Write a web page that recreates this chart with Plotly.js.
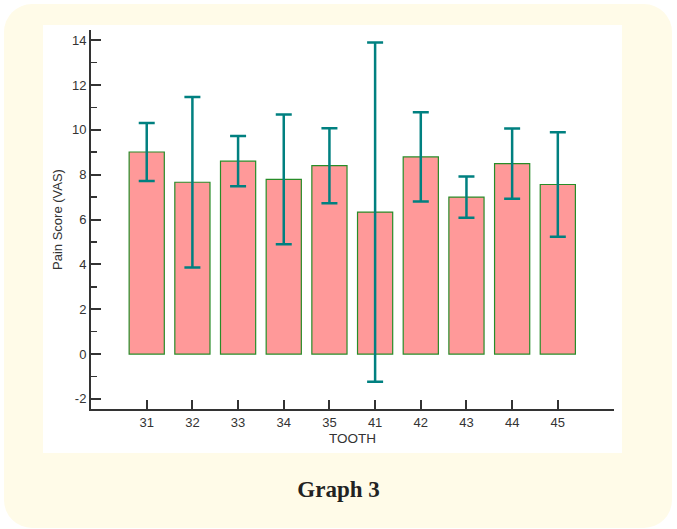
<!DOCTYPE html>
<html>
<head>
<meta charset="utf-8">
<script src="https://cdn.plot.ly/plotly-3.0.1.min.js"></script>
<style>
html,body{margin:0;padding:0;width:677px;height:529px;background:#ffffff;overflow:hidden;}
#card{position:absolute;left:4px;top:4px;width:668px;height:524px;background:#fffbe8;border-radius:28px;}
#plot{position:absolute;left:43px;top:25px;width:579px;height:428px;}
#cap{position:absolute;left:0;width:677px;top:477px;text-align:center;font-family:"Liberation Serif",serif;font-weight:bold;font-size:23px;color:#222;}
</style>
</head>
<body>
<div id="card"></div>
<div id="plot"></div>
<div id="cap">Graph 3</div>
<script>
var teeth = ['31','32','33','34','35','41','42','43','44','45'];
var meanScore = [9.01, 7.66, 8.6, 7.79, 8.4, 6.33, 8.79, 7.0, 8.49, 7.56];
var errScore = [1.29, 3.8, 1.12, 2.89, 1.67, 7.56, 1.99, 0.92, 1.57, 2.33];
var yTicks = [-2, 0, 2, 4, 6, 8, 10, 12, 14];

var trace = {
  type: 'bar',
  x: teeth,
  y: meanScore,
  width: 0.77,
  marker: {color: 'rgb(255,153,153)', line: {color: 'rgb(40,140,40)', width: 1.2}},
  error_y: {type: 'data', array: errScore, visible: true, color: 'rgb(0,128,128)', thickness: 2.5, width: 8},
  hoverinfo: 'none'
};

var layout = {
  width: 579, height: 428,
  margin: {l: 48, r: 8, t: 5, b: 44},
  paper_bgcolor: '#ffffff',
  plot_bgcolor: '#ffffff',
  showlegend: false,
  font: {family: 'Liberation Sans, Arial, sans-serif', size: 13, color: '#333'},
  xaxis: {
    type: 'category',
    range: [-1.22, 10.23],
    showline: true, linewidth: 2, linecolor: '#333',
    ticks: 'inside', ticklen: 9, tickwidth: 2, tickcolor: '#333',
    showgrid: false, zeroline: false,
    tickfont: {size: 13, color: '#333'},
    title: {text: 'TOOTH', font: {size: 13.5, color: '#333'}, standoff: 5}
  },
  yaxis: {
    range: [-2.45, 14.45],
    tickvals: yTicks,
    ticktext: yTicks.map(String),
    showline: true, linewidth: 2, linecolor: '#333',
    ticks: 'inside', ticklen: 10, tickwidth: 2, tickcolor: '#333',
    minor: {dtick: 1, tick0: 0, ticks: 'inside', ticklen: 6, tickwidth: 1.5, tickcolor: '#333', showgrid: false},
    showgrid: false, zeroline: false,
    tickfont: {size: 13, color: '#333'},
    title: {text: 'Pain Score (VAS)', font: {size: 13, color: '#333'}, standoff: 6}
  }
};

Plotly.newPlot('plot', [trace], layout, {staticPlot: true, displayModeBar: false});
</script>
</body>
</html>
